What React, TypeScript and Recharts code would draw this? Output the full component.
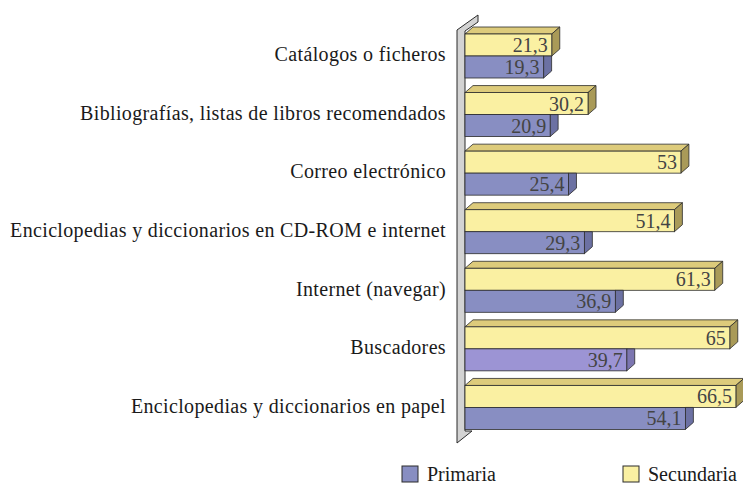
import React from 'react';
import { BarChart, Bar, XAxis, YAxis, Cell, LabelList, Customized } from 'recharts';

const categories = [
  'Catálogos o ficheros',
  'Bibliografías, listas de libros recomendados',
  'Correo electrónico',
  'Enciclopedias y diccionarios en CD-ROM e internet',
  'Internet (navegar)',
  'Buscadores',
  'Enciclopedias y diccionarios en papel',
];
const secundaria = [21.3, 30.2, 53, 51.4, 61.3, 65, 66.5];
const primaria = [19.3, 20.9, 25.4, 29.3, 36.9, 39.7, 54.1];
const seriesNames = ['Primaria', 'Secundaria'];

const data = categories.map((c, i) => ({ name: c, Secundaria: secundaria[i], Primaria: primaria[i] }));

const W = 743;
const H = 487;
const MARGIN = { top: 27, right: 1, bottom: 50, left: 0 };
const YW = 465;
const DX = 8;
const DY = 7;
const FONT_STYLE = { fontFamily: "'Liberation Serif'" };

const YEL = { front: '#FAF0A2', top: '#DDCB7B', side: '#A99A58' };
const BLU = { front: '#888EC2', side: '#6C71A3' };
const BLU2 = { front: '#9C94D4', side: '#7C76B0' };
const STROKE = '#2b2b2b';

const YellowShape = (p: any) => {
  const { x, y, width: w, height: h } = p;
  return (
    <g>
      <polygon points={`${x},${y} ${x + DX},${y - DY} ${x + w + DX},${y - DY} ${x + w},${y}`} fill={YEL.top} stroke={STROKE} strokeWidth={0.8} />
      <polygon points={`${x + w},${y} ${x + w + DX},${y - DY} ${x + w + DX},${y + h - DY} ${x + w},${y + h}`} fill={YEL.side} stroke={STROKE} strokeWidth={0.8} />
      <rect x={x} y={y} width={w} height={h} fill={YEL.front} stroke={STROKE} strokeWidth={0.8} />
    </g>
  );
};

const BlueShape = (p: any) => {
  const { x, y, width: w, height: h, index } = p;
  const c = index === 5 ? BLU2 : BLU;
  return (
    <g>
      <polygon points={`${x + w},${y} ${x + w + DX},${y} ${x + w + DX},${y + h - DY} ${x + w},${y + h}`} fill={c.side} stroke={STROKE} strokeWidth={0.8} />
      <rect x={x} y={y} width={w} height={h} fill={c.front} stroke={STROKE} strokeWidth={0.8} />
    </g>
  );
};

const ValueLabel = (p: any) => {
  const { x, y, width, height, value } = p;
  return (
    <text x={x + width - 4} y={y + height / 2 + 7} textAnchor="end" fontSize={20} fill="#444" style={FONT_STYLE}>
      {String(value).replace('.', ',')}
    </text>
  );
};

const CatTick = (p: any) => {
  const { x, y, payload } = p;
  return (
    <text x={x} y={y + 5} textAnchor="end" fontSize={20} fill="#1a1a1a" letterSpacing={0.35} style={FONT_STYLE}>
      {payload.value}
    </text>
  );
};

const Wall = () => {
  const L = MARGIN.left + YW;
  const T = MARGIN.top;
  const B = H - MARGIN.bottom;
  const pts = [
    [L - 8, T + 3],
    [L + 13, T - 12],
    [L + 13, T - 5],
    [L, T + 4],
    [L, B - 6],
    [L + 7, B - 6],
    [L - 8, B + 6],
  ];
  return (
    <polygon points={pts.map((q) => q.join(',')).join(' ')} fill="#D3D3D3" stroke={STROKE} strokeWidth={1} />
  );
};

const LegendSvg = () => {
  const items = [
    { name: seriesNames[0], color: BLU.front, x: 402 },
    { name: seriesNames[1], color: YEL.front, x: 623 },
  ];
  return (
    <g>
      {items.map((it) => (
        <g key={it.name}>
          <rect x={it.x} y={466} width={16} height={16} fill={it.color} stroke={STROKE} strokeWidth={1} />
          <text x={it.x + 25} y={481} fontSize={20} fill="#1a1a1a" style={FONT_STYLE}>{it.name}</text>
        </g>
      ))}
    </g>
  );
};

export default function App() {
  return (
    <div style={{ position: 'absolute', left: 0, top: 0, width: W, height: H, background: '#fff' }}>
      <BarChart width={W} height={H} data={data} layout="vertical" margin={MARGIN} barSize={22} barGap={0}>
        <Customized component={<Wall />} />
        <XAxis type="number" domain={[0, 68]} hide />
        <YAxis type="category" dataKey="name" width={YW} tickLine={false} axisLine={false} tickSize={0} tickMargin={19} tick={<CatTick />} interval={0} />
        <Bar dataKey="Secundaria" isAnimationActive={false} shape={<YellowShape />}>
          <LabelList dataKey="Secundaria" content={<ValueLabel />} />
        </Bar>
        <Bar dataKey="Primaria" isAnimationActive={false} shape={<BlueShape />}>
          {data.map((d, i) => (
            <Cell key={i} fill={i === 5 ? BLU2.front : BLU.front} />
          ))}
          <LabelList dataKey="Primaria" content={<ValueLabel />} />
        </Bar>
        <Customized component={<LegendSvg />} />
      </BarChart>
    </div>
  );
}
